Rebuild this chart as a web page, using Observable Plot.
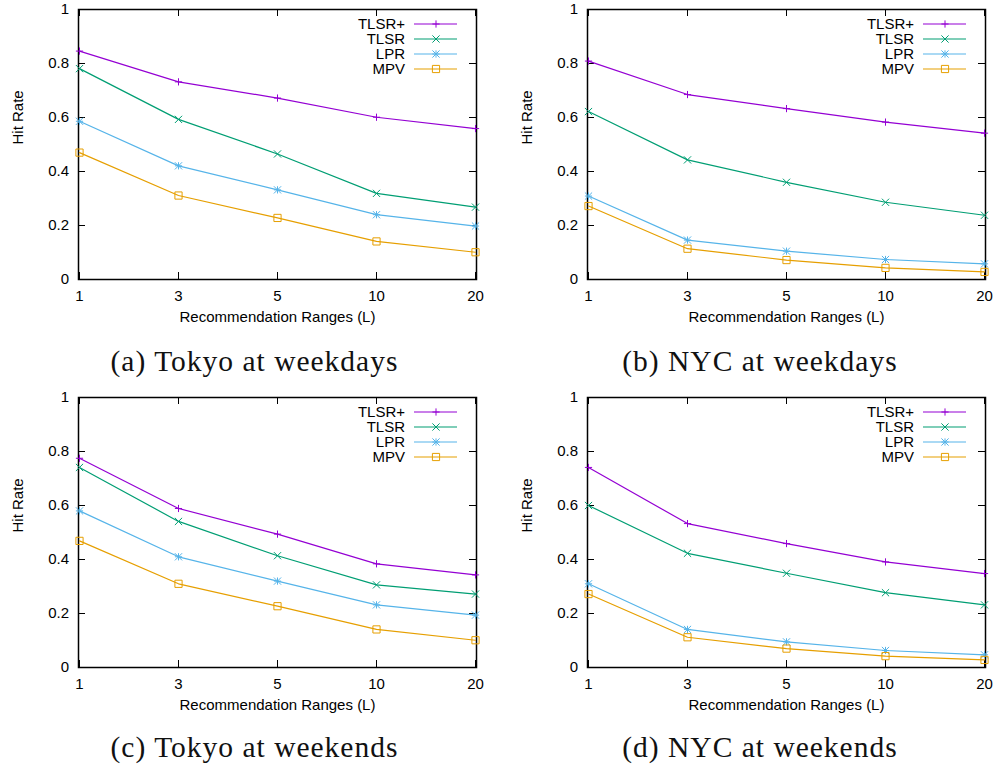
<!DOCTYPE html>
<html>
<head>
<meta charset="utf-8">
<script src="https://cdn.jsdelivr.net/npm/d3@7"></script>
<script src="https://cdn.jsdelivr.net/npm/@observablehq/plot@0.6"></script>
<style>
  html, body { margin: 0; padding: 0; background: #fff; }
  #root { position: relative; width: 994px; height: 767px; background: #fff; overflow: hidden; }
  .panel { position: absolute; }
  .caption { position: absolute; font-family: "Liberation Serif", "Times New Roman", serif; font-size: 29.5px; line-height: 29.5px; letter-spacing: 1px; color: #111; text-align: center; white-space: nowrap; }
</style>
</head>
<body>
<div id="root"></div>
<script>
// ---- data ----
const ranges = ["1", "3", "5", "10", "20"];
const methods = ["TLSR+", "TLSR", "LPR", "MPV"];
const colors = ["#9400d3", "#009e73", "#56b4e9", "#e69f00"];
const yTicks = [0, 0.2, 0.4, 0.6, 0.8, 1];
const captions = ["(a) Tokyo at weekdays", "(b) NYC at weekdays", "(c) Tokyo at weekends", "(d) NYC at weekends"];
const xLabel = "Recommendation Ranges (L)";
const yLabel = "Hit Rate";

// rows: TLSR+, TLSR, LPR, MPV ; columns: L = 1, 3, 5, 10, 20
const tokyoWeekdays = [
  [0.846, 0.732, 0.672, 0.601, 0.559],
  [0.781, 0.593, 0.465, 0.319, 0.268],
  [0.586, 0.421, 0.332, 0.240, 0.198],
  [0.470, 0.311, 0.228, 0.141, 0.101]
];
const nycWeekdays = [
  [0.809, 0.685, 0.633, 0.583, 0.542],
  [0.622, 0.443, 0.360, 0.286, 0.238],
  [0.309, 0.146, 0.105, 0.074, 0.058],
  [0.272, 0.114, 0.072, 0.043, 0.028]
];
const tokyoWeekends = [
  [0.775, 0.589, 0.494, 0.384, 0.343],
  [0.741, 0.541, 0.414, 0.306, 0.272],
  [0.580, 0.410, 0.320, 0.232, 0.194],
  [0.469, 0.310, 0.227, 0.141, 0.101]
];
const nycWeekends = [
  [0.741, 0.533, 0.459, 0.391, 0.348],
  [0.600, 0.423, 0.349, 0.277, 0.232],
  [0.310, 0.141, 0.095, 0.063, 0.047],
  [0.272, 0.112, 0.070, 0.042, 0.028]
];

// ---- gnuplot-like point symbols ----
const half = (size) => Math.sqrt(size / Math.PI);
const symPlus = {draw(c, size) { const h = half(size); c.moveTo(-h, 0); c.lineTo(h, 0); c.moveTo(0, -h); c.lineTo(0, h); }};
const symTimes = {draw(c, size) { const h = half(size); c.moveTo(-h, -h); c.lineTo(h, h); c.moveTo(-h, h); c.lineTo(h, -h); }};
const symStar = {draw(c, size) { const h = half(size); c.moveTo(-h, 0); c.lineTo(h, 0); c.moveTo(0, -h); c.lineTo(0, h); c.moveTo(-h, -h); c.lineTo(h, h); c.moveTo(-h, h); c.lineTo(h, -h); }};
const symSquare = {draw(c, size) { const h = half(size); c.rect(-h, -h, 2 * h, 2 * h); }};
const symbols = [symPlus, symTimes, symStar, symSquare];
const R = 3.6;

const FRAME_W = 398, FRAME_H = 270;
const FONT = "'Liberation Sans', Arial, Helvetica, sans-serif";
const FS = 15;

function toRows(vals) {
  return methods.flatMap((m, i) => ranges.map((L, j) => ({L, value: vals[i][j], method: m})));
}

function legendMark(index, scales, values, dims) {
  const g = d3.create("svg:g").attr("font-family", FONT).attr("font-size", FS);
  const x0 = dims.width - dims.marginRight;
  const y0 = dims.marginTop;
  methods.forEach((m, i) => {
    const y = y0 + 15 + i * 15;
    g.append("text").attr("x", x0 - 71).attr("y", y).attr("dy", "0.36em")
      .attr("text-anchor", "end").attr("fill", "#000").text(m);
    g.append("line").attr("x1", x0 - 62).attr("x2", x0 - 19).attr("y1", y).attr("y2", y)
      .attr("stroke", colors[i]).attr("stroke-width", 1.2);
    g.append("path").attr("transform", `translate(${x0 - 40},${y})`)
      .attr("d", d3.symbol(symbols[i], R * R * Math.PI)())
      .attr("fill", "none").attr("stroke", colors[i]).attr("stroke-width", 1);
  });
  return g.node();
}

function panel(vals, marginLeft, marginRight) {
  const rows = toRows(vals);
  const marks = [
    Plot.frame({stroke: "#000", strokeWidth: 1.5}),
    // inward ticks on all four sides
    Plot.ruleX(ranges, {x: d => d, insetTop: FRAME_H - 7, stroke: "#000"}),
    Plot.ruleX(ranges, {x: d => d, insetBottom: FRAME_H - 7, stroke: "#000"}),
    Plot.ruleY(yTicks, {y: d => d, insetRight: FRAME_W - 7, stroke: "#000"}),
    Plot.ruleY(yTicks, {y: d => d, insetLeft: FRAME_W - 7, stroke: "#000"}),
    Plot.axisX({ticks: ranges, tickSize: 0, tickPadding: 10.5, label: null, fontSize: FS}),
    Plot.axisY({ticks: yTicks, tickSize: 0, tickPadding: 9.5, label: null, fontSize: FS, tickFormat: d3.format("~g")}),
    Plot.text([xLabel], {frameAnchor: "bottom", dy: 38, text: d => d, lineAnchor: "middle", fontSize: FS, fill: "#000"}),
    Plot.text([yLabel], {frameAnchor: "left", dx: -60, rotate: -90, text: d => d, lineAnchor: "middle", fontSize: FS, fill: "#000"})
  ];
  methods.forEach((m, i) => {
    const sub = rows.filter(d => d.method === m);
    marks.push(Plot.line(sub, {x: "L", y: "value", stroke: colors[i], strokeWidth: 1.2}));
  });
  methods.forEach((m, i) => {
    const sub = rows.filter(d => d.method === m);
    marks.push(Plot.dot(sub, {x: "L", y: "value", symbol: symbols[i], r: R, fill: "none", stroke: colors[i], strokeWidth: 1}));
  });
  marks.push(legendMark);
  return Plot.plot({
    width: marginLeft + FRAME_W + marginRight,
    height: 330,
    marginLeft, marginRight,
    marginTop: 9,
    marginBottom: 51,
    style: {fontFamily: FONT, fontSize: FS + "px", color: "#000", background: "transparent"},
    x: {type: "point", domain: ranges, padding: 0},
    y: {domain: [0, 1]},
    marks
  });
}

const root = document.getElementById("root");
const layout = [
  {vals: tokyoWeekdays, left: 0, top: 0, ml: 78, capX: 254.5, capTop: 346.5},
  {vals: nycWeekdays, left: 497, top: 0, ml: 90, capX: 760, capTop: 346.5},
  {vals: tokyoWeekends, left: 0, top: 387.5, ml: 78, capX: 254.5, capTop: 732.5},
  {vals: nycWeekends, left: 497, top: 387.5, ml: 90, capX: 760, capTop: 732.5}
];
layout.forEach((p, k) => {
  const div = document.createElement("div");
  div.className = "panel";
  div.style.left = p.left + "px";
  div.style.top = p.top + "px";
  div.appendChild(panel(p.vals, p.ml, 497 - p.ml - FRAME_W));
  root.appendChild(div);
  const cap = document.createElement("div");
  cap.className = "caption";
  cap.style.left = (p.capX - 200) + "px";
  cap.style.width = "400px";
  cap.style.top = p.capTop + "px";
  cap.textContent = captions[k];
  root.appendChild(cap);
});
</script>
</body>
</html>
